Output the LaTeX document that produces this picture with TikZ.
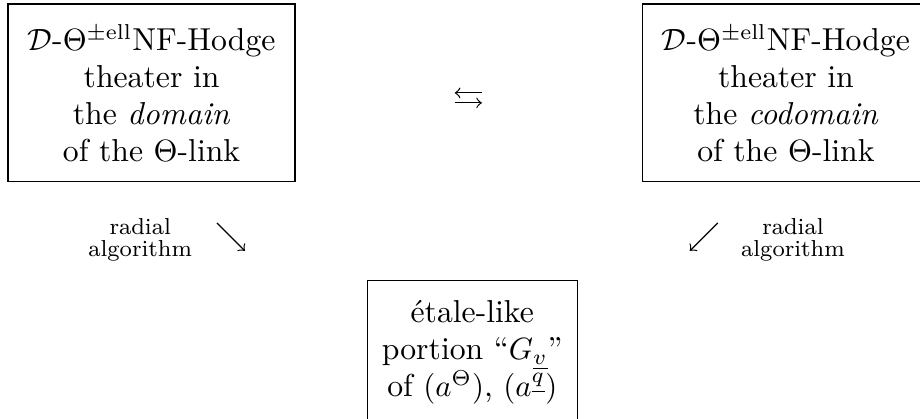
\documentclass[tikz,border=0pt]{standalone}
\usetikzlibrary{positioning}
\begin{document}
\begin{tikzpicture}[
    theater/.style={rectangle, draw, align=center, font=\fontsize{10.3}{12}\selectfont, minimum width=3.275cm, minimum height=2.03cm, inner sep=2pt},
    portion/.style={rectangle, draw, align=center, font=\fontsize{10.3}{12}\selectfont, minimum width=2.40cm, minimum height=1.64cm, inner sep=2pt},
    lab/.style={align=center, font=\fontsize{7.5}{7}\selectfont},
    arrow/.style={->, line width=0.4pt}
]
\useasboundingbox (0,0) rectangle (10.50,4.78);
\clip (0,0) rectangle (10.50,4.78);

% Theaters
\node[theater] (dom) at (1.73, 3.72) {$\mathcal{D}$-$\Theta^{\pm\mathrm{ell}}$NF-Hodge\\theater in\\the \emph{domain}\\of the $\Theta$-link};
\node[theater] (cod) at (8.97, 3.72) {$\mathcal{D}$-$\Theta^{\pm\mathrm{ell}}$NF-Hodge\\theater in\\the \emph{codomain}\\of the $\Theta$-link};

% Etale-like portion
\node[portion] (etale) at (5.39, 0.76) {étale-like\\portion ``$G_{\underline{v}}$''\\of $(a^{\Theta})$, $(a^{\underline{q}})$};

% Labels
\node[lab] (radL) at (1.60, 2.04) {radial\\algorithm};
\node[lab] (radR) at (9.05, 2.04) {radial\\algorithm};

% Arrows
\coordinate (lrA) at (5.50, 3.72); \coordinate (lrB) at (5.19, 3.72);
\coordinate (lrC) at (5.19, 3.606); \coordinate (lrD) at (5.50, 3.606);
\draw[arrow] (lrA) -- (lrB);
\draw[arrow] (lrC) -- (lrD);

\coordinate (seA) at (2.476, 2.236); \coordinate (seB) at (2.795, 1.917);
\coordinate (swA) at (8.192, 2.236); \coordinate (swB) at (7.873, 1.917);
\draw[arrow] (seA) -- (seB);
\draw[arrow] (swA) -- (swB);

\end{tikzpicture}
\end{document}
